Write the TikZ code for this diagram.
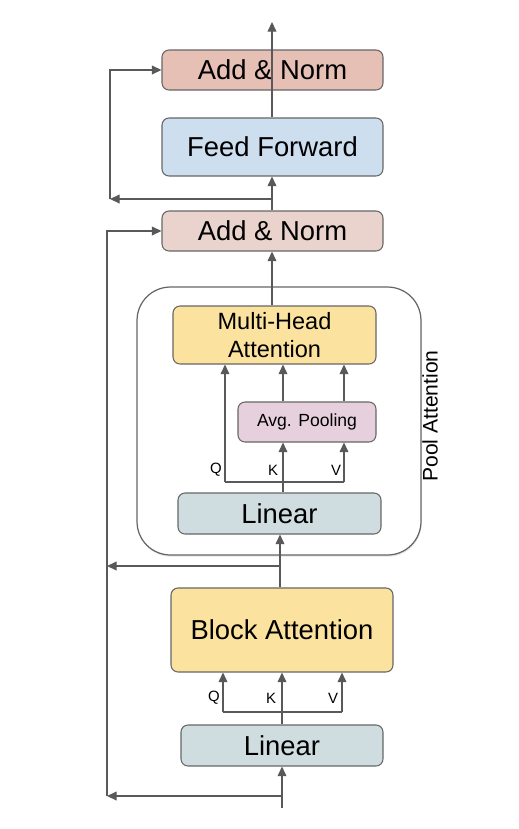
\documentclass[tikz,border=0pt]{standalone}
\usepackage{fontspec}
\setmainfont{Liberation Sans}
\usetikzlibrary{arrows.meta,shadows}

\definecolor{linegray}{HTML}{595959}
\definecolor{edgegray}{HTML}{666666}
\definecolor{normred}{HTML}{E6BFB5}
\definecolor{normpink}{HTML}{EAD3CC}
\definecolor{ffblue}{HTML}{CDDEEF}
\definecolor{attyellow}{HTML}{FBE29E}
\definecolor{poolpink}{HTML}{E6D0DE}
\definecolor{lingray}{HTML}{D0DDE0}

\tikzset{
    block/.style={draw=edgegray, line width=0.6pt, rounded corners=4pt, inner sep=0pt,
        font=\fontsize{15.6}{18}\selectfont},
    arr/.style={draw=linegray, line width=0.75pt, -{Triangle[length=5.5pt,width=5pt]}},
    ln/.style={draw=linegray, line width=0.75pt},
    qkv/.style={font=\fontsize{8.5}{10}\selectfont, inner sep=0pt},
}

\begin{document}
\begin{tikzpicture}[x=0.02cm,y=-0.02cm]
            \useasboundingbox (0,0) rectangle (519,829);
            % pool attention frame
            \node[draw=edgegray, line width=0.7pt, rounded corners=19pt, fill=white,
                drop shadow={opacity=0.2,shadow xshift=0.4pt,shadow yshift=-1pt},
                minimum width=5.68cm, minimum height=5.36cm] (pool) at (279,421) {};
            \node[rotate=90, font=\fontsize{12}{14}\selectfont] (pooltxt) at (430,416) {Pool Attention};
            % boxes
            \node[block, fill=normred, minimum width=4.42cm, minimum height=0.8cm] (an2) at (272.5,70) {Add \& Norm};
            \node[block, fill=ffblue, minimum width=4.42cm, minimum height=1.16cm] (ff) at (272.5,147) {Feed Forward};
            \node[block, fill=normpink, minimum width=4.42cm, minimum height=0.8cm] (an1) at (272.5,231) {Add \& Norm};
            \node[block, fill=attyellow, minimum width=4.06cm, minimum height=1.16cm, align=center,
                font=\fontsize{13.4}{16}\selectfont] (mha) at (274.5,335) {Multi-Head\\Attention};
            \node[block, fill=poolpink, minimum width=2.76cm, minimum height=0.8cm,
                font=\fontsize{10}{12}\selectfont] (avg) at (307,422) {Avg. Pooling};
            \node[block, fill=lingray, minimum width=4.06cm, minimum height=0.82cm] (lin2) at (279.5,513.5) {Linear};
            \node[block, fill=attyellow, minimum width=4.44cm, minimum height=1.68cm] (blk) at (282,630) {Block Attention};
            \node[block, fill=lingray, minimum width=4.04cm, minimum height=0.82cm] (lin1) at (282,745.5) {Linear};
            % helper points
            \coordinate (out) at (272,22);
            \coordinate (res2) at (110,199);
            \coordinate (res1) at (107,796);
            \coordinate (in) at (282,808);
            \coordinate (q2) at (225,482);
            \coordinate (k2) at (283,482);
            \coordinate (v2) at (344,482);
            \coordinate (q1) at (223,712);
            \coordinate (k1) at (282,712);
            \coordinate (v1) at (342,712);
            % Q K V labels
            \node[qkv] (q2l) at (216,470) {Q};
            \node[qkv] (k2l) at (273,470) {K};
            \node[qkv] (v2l) at (336,470) {V};
            \node[qkv] (q1l) at (214,698) {Q};
            \node[qkv] (k1l) at (271,698) {K};
            \node[qkv] (v1l) at (333,698) {V};
            % top part
            \draw[arr] (ff.north -| out) -- (out);
            \draw[arr] (an1.north -| out) -- (ff.south -| out);
            \draw[arr] (res2 -| out) -- (res2);
            \draw[arr] (res2) |- (an2.west);
            \draw[arr] (mha.north -| out) -- (an1.south -| out);
            % pool attention inputs
            \draw[ln] (q2) -- (v2);
            \draw[arr] (k2 |- lin2.north) -- (k2 |- avg.south);
            \draw[arr] (v2) -- (v2 |- avg.south);
            \draw[arr] (q2) -- (q2 |- mha.south);
            \draw[arr] (k2 |- avg.north) -- (k2 |- mha.south);
            \draw[arr] (v2 |- avg.north) -- (v2 |- mha.south);
            % block attention
            \draw[arr] (blk.north -| 280,0) -- (lin2.south -| 280,0);
            \draw[arr] (280,566) -- (res1 |- 0,566);
            \draw[ln] (q1) -- (v1);
            \draw[arr] (k1 |- lin1.north) -- (k1 |- blk.south);
            \draw[arr] (q1) -- (q1 |- blk.south);
            \draw[arr] (v1) -- (v1 |- blk.south);
            % input and residual
            \draw[arr] (in) -- (lin1.south -| in);
            \draw[arr] (res1 -| in) -- (res1);
            \draw[arr] (res1) |- (an1.west);
\end{tikzpicture}
\end{document}
